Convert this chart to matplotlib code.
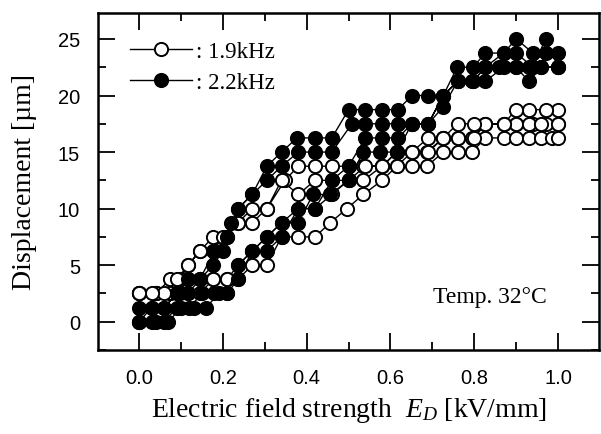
import numpy as np
import matplotlib
matplotlib.use("Agg")
from matplotlib import pyplot as plt
from matplotlib.ticker import MultipleLocator

# 1.9 kHz (open circles) - two field cycles, up and down branches
f19_up1_x = [0.0, 0.04, 0.074, 0.098, 0.117, 0.145, 0.177, 0.21, 0.236, 0.27, 0.305, 0.34, 0.38, 0.42, 0.456,
             0.496, 0.535, 0.58, 0.615, 0.651, 0.687, 0.726, 0.76, 0.795, 0.826, 0.87, 0.9, 0.93, 0.96, 0.985, 1.0]
f19_up1_y = [2.5, 2.5, 2.5, 2.5, 2.5, 2.5, 3.75, 3.75, 3.75, 5, 5, 7.5, 7.5, 7.5, 8.75,
             10, 11.25, 12.5, 13.75, 13.75, 13.75, 15, 15, 15, 16.25, 16.25, 16.25, 16.25, 16.25, 16.25, 16.25]
f19_dn1_x = [1.0, 0.97, 0.94, 0.9, 0.87, 0.826, 0.795, 0.76, 0.726, 0.687, 0.651, 0.615, 0.58, 0.535, 0.5,
             0.46, 0.42, 0.38, 0.348, 0.305, 0.27, 0.236, 0.21, 0.177, 0.145, 0.117, 0.098, 0.074, 0.04, 0.0]
f19_dn1_y = [17.5, 17.5, 17.5, 17.5, 17.5, 17.5, 16.25, 16.25, 16.25, 15, 15, 15, 13.75, 13.75, 13.75,
             13.75, 13.75, 13.75, 12.5, 10, 10, 8.75, 7.5, 7.5, 6.25, 5, 3.75, 3.75, 2.5, 2.5]
f19_up2_x = [0.0, 0.04, 0.074, 0.1, 0.117, 0.145, 0.177, 0.21, 0.236, 0.27, 0.305, 0.34, 0.38, 0.42, 0.46,
             0.5, 0.535, 0.58, 0.615, 0.651, 0.69, 0.726, 0.76, 0.8, 0.826, 0.87, 0.9, 0.93, 0.96, 1.0]
f19_up2_y = [2.5, 2.5, 2.5, 3.75, 3.75, 3.75, 3.75, 3.75, 5, 6.25, 7.5, 8.75, 10, 10, 11.25,
             12.5, 12.5, 13.75, 15, 15, 15, 16.25, 16.25, 16.25, 17.5, 17.5, 17.5, 17.5, 17.5, 17.5]
f19_dn2_x = [1.0, 0.97, 0.93, 0.9, 0.87, 0.826, 0.8, 0.76, 0.726, 0.69, 0.651, 0.615, 0.58, 0.54, 0.5,
             0.46, 0.42, 0.38, 0.34, 0.305, 0.27, 0.236, 0.2, 0.177, 0.145, 0.117, 0.09, 0.06, 0.03, 0.0]
f19_dn2_y = [18.75, 18.75, 18.75, 18.75, 17.5, 17.5, 17.5, 17.5, 16.25, 16.25, 15, 13.75, 13.75, 13.75, 12.5,
             12.5, 12.5, 11.25, 12.5, 10, 8.75, 8.75, 7.5, 6.25, 6.25, 5, 3.75, 2.5, 2.5, 2.5]

# 2.2 kHz (filled circles)
f22_up1_x = [0.0, 0.04, 0.07, 0.1, 0.13, 0.16, 0.19, 0.21, 0.236, 0.27, 0.305, 0.34, 0.38, 0.415, 0.456,
             0.5, 0.535, 0.575, 0.615, 0.651, 0.69, 0.726, 0.76, 0.795, 0.826, 0.87, 0.9, 0.93, 0.96, 1.0]
f22_up1_y = [0, 0, 0, 1.25, 1.25, 1.25, 2.5, 2.5, 3.75, 6.25, 7.5, 8.75, 8.75, 11.25, 11.25,
             12.5, 15, 15, 15, 17.5, 17.5, 19, 21.25, 21.25, 21.25, 22.5, 22.5, 22.5, 22.5, 22.5]
f22_dn1_x = [1.0, 0.97, 0.94, 0.9, 0.87, 0.826, 0.797, 0.759, 0.726, 0.69, 0.651, 0.618, 0.58, 0.54, 0.5,
             0.46, 0.42, 0.377, 0.34, 0.305, 0.27, 0.236, 0.22, 0.2, 0.177, 0.145, 0.117, 0.09, 0.06, 0.03, 0.0]
f22_dn1_y = [23.75, 23.75, 23.75, 25, 23.75, 23.75, 22.5, 22.5, 20, 20, 20, 18.75, 18.75, 18.75, 18.75,
             16.25, 16.25, 16.25, 15, 13.75, 11.25, 10, 8.75, 6.25, 5, 3.75, 3.75, 2.5, 1.25, 1.25, 1.25]
f22_up2_x = [0.0, 0.03, 0.06, 0.09, 0.12, 0.15, 0.18, 0.21, 0.236, 0.27, 0.305, 0.34, 0.38, 0.42, 0.46,
             0.5, 0.54, 0.58, 0.618, 0.651, 0.69, 0.726, 0.76, 0.797, 0.826, 0.86, 0.9, 0.93, 0.96, 1.0]
f22_up2_y = [0, 0, 0, 1.25, 1.25, 2.5, 2.5, 2.5, 5, 6.25, 6.25, 7.5, 10, 10, 12.5,
             13.75, 16.25, 16.25, 16.25, 17.5, 17.5, 20, 21.25, 21.25, 22.5, 22.5, 22.5, 21.25, 22.5, 22.5]
f22_dn2_x = [1.0, 0.97, 0.94, 0.9, 0.87, 0.826, 0.797, 0.76, 0.726, 0.69, 0.651, 0.618, 0.58, 0.54, 0.508,
             0.46, 0.42, 0.38, 0.34, 0.305, 0.27, 0.236, 0.21, 0.18, 0.145, 0.117, 0.09, 0.06, 0.03, 0.0]
f22_dn2_y = [22.5, 25, 22.5, 23.75, 23.75, 22.5, 21.25, 21.25, 20, 17.5, 17.5, 17.5, 17.5, 17.5, 17.5,
             15, 15, 15, 13.75, 12.5, 11.25, 10, 7.5, 6.25, 3.75, 2.5, 2.5, 1.25, 1.25, 0]

x_ticks = [0.0, 0.2, 0.4, 0.6, 0.8, 1.0]
y_ticks = [0, 5, 10, 15, 20, 25]

serif = "Liberation Serif"
sans = "Liberation Sans"
plt.rcParams["mathtext.fontset"] = "custom"
plt.rcParams["mathtext.it"] = "Liberation Serif:italic"
plt.rcParams["mathtext.rm"] = "Liberation Serif"

fig = plt.figure(figsize=(6.01, 4.35), dpi=100)
ax = fig.add_axes([0.163, 0.193, 0.834, 0.775])

f19_x = f19_up1_x + f19_dn1_x + f19_up2_x + f19_dn2_x
f19_y = f19_up1_y + f19_dn1_y + f19_up2_y + f19_dn2_y
f22_x = f22_up1_x + f22_dn1_x + f22_up2_x + f22_dn2_x
f22_y = f22_up1_y + f22_dn1_y + f22_up2_y + f22_dn2_y

ax.plot(f19_x, f19_y, "-o", color="black", lw=1.0, ms=9.5, mfc="white", mec="black", mew=1.4,
        label=": 1.9kHz")
ax.plot(f22_x, f22_y, "-o", color="black", lw=1.0, ms=9.5, mfc="black", mec="black", mew=1.4,
        label=": 2.2kHz")

ax.set_xlim(-0.098, 1.098)
ax.set_ylim(-2.5, 27.3)
ax.set_xticks(x_ticks)
ax.set_xticklabels(["%.1f" % v for v in x_ticks])
ax.set_yticks(y_ticks)
ax.xaxis.set_minor_locator(MultipleLocator(0.1))
ax.yaxis.set_minor_locator(MultipleLocator(2.5))
ax.tick_params(which="both", direction="in", top=True, right=True, width=1.3)
ax.tick_params(which="major", length=12, pad=13, labelsize=14.5)
ax.tick_params(which="minor", length=6)
for lab in ax.get_xticklabels() + ax.get_yticklabels():
    lab.set_family(sans)
for sp in ax.spines.values():
    sp.set_linewidth(1.8)

ax.set_xlabel(r"Electric field strength  $E_D$ [kV/mm]", family=serif, fontsize=20, va="center")
ax.set_ylabel("Displacement [µm]", family=serif, fontsize=20, va="center")
ax.xaxis.set_label_coords(0.5, -0.175)
ax.yaxis.set_label_coords(-0.146, 0.5)

ax.text(0.782, 0.16, "Temp. 32°C", family=serif, fontsize=17, ha="center", va="center",
        transform=ax.transAxes)

ax.legend(loc="upper left", frameon=False, prop={"family": serif, "size": 16.5},
          handlelength=2.7, handletextpad=0.2, labelspacing=0.45,
          borderaxespad=0.0, bbox_to_anchor=(0.045, 0.945))

fig.savefig("out.png", dpi=100)
